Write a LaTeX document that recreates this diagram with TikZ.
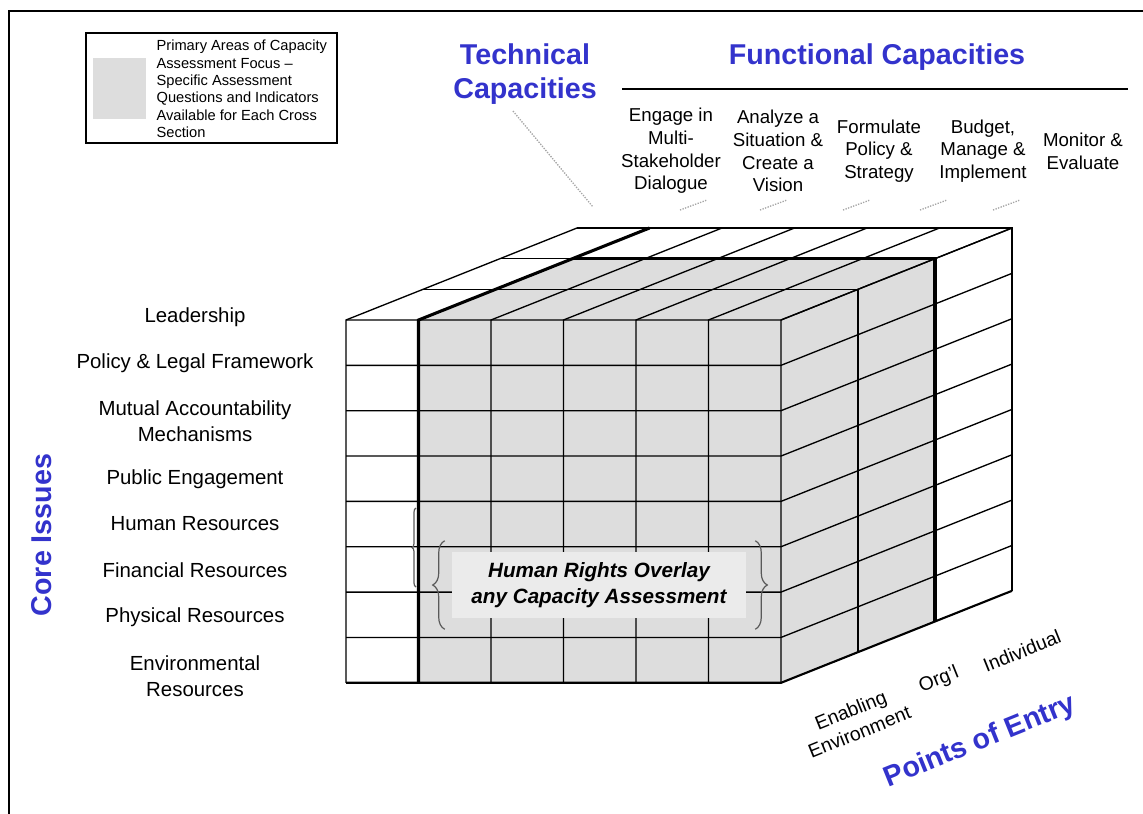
\documentclass[tikz,border=0pt]{standalone}
\usepackage{fontspec}
\setmainfont{Liberation Sans}
\usetikzlibrary{calc, decorations.pathreplacing}

\definecolor{headblue}{RGB}{51,51,204}
\definecolor{cubegray}{RGB}{221,221,221}
\definecolor{boxgray}{RGB}{235,235,235}

\begin{document}
\begin{tikzpicture}[x=.75pt, y=-.75pt]
    \tikzstyle{heading} = [font=\fontsize{21.5}{25.5}\selectfont\bfseries,
        text=headblue, align=center]
    \tikzstyle{issue} = [font=\fontsize{15.3}{19.3}\selectfont, align=center]
    \tikzstyle{capacity} = [font=\fontsize{14}{17}\selectfont, align=center]
    \tikzstyle{entrylabel} = [font=\fontsize{14.5}{17.5}\selectfont, align=center, rotate=22]
    \tikzstyle{gridline} = [line width=1pt]
    \tikzstyle{edge} = [line width=2.3pt]
    \tikzstyle{leader} = [gray!70, densely dotted, line width=1pt]
    \tikzstyle{overbrace} = [gray!70!black, line width=.9pt, decorate,
        decoration={brace, amplitude=9pt}]

    \useasboundingbox (0,0) rectangle (1143,814);

    % Frame
    \draw[line width=1pt] (9,814) -- (9,11) -- (1143,11);

    % Legend -------------------------------------------
    \node (legend) at (211.5,88) [draw, line width=1pt, minimum width=188.25pt,
        minimum height=82.5pt] {};
    \node (key) at ($(legend.west) + (34.5,0)$) [fill=cubegray,
        minimum width=39.75pt, minimum height=45.75pt] {};
    \node (key_text) at ($(legend.west) + (71,1)$) [anchor=west, align=left,
        inner sep=0, font=\fontsize{11}{13.1}\selectfont]
        {Primary Areas of Capacity\\Assessment Focus –\\Specific Assessment\\
        Questions and Indicators\\Available for Each Cross\\Section};
    % ---------------------------------------------------

    % Capacities ---------------------------------------
    \node (technical) at (525,74) [heading] {Technical\\Capacities};
    \node (functional) at (877,57) [heading] {Functional Capacities};
    \draw[line width=1pt] (622,89) -- (1128,89);

    \node (engage) at (671,151) [capacity] {Engage in\\Multi-\\Stakeholder\\Dialogue};
    \node (analyze) at (778,151) [capacity] {Analyze a\\Situation \&\\Create a\\Vision};
    \node (formulate) at (879,151) [capacity] {Formulate\\Policy \&\\Strategy};
    \node (budget) at (983,151) [capacity] {Budget,\\Manage \&\\Implement};
    \node (monitor) at (1083,151) [capacity] {Monitor \&\\Evaluate};

    \coordinate (tech_end) at (593,207);
    \draw[leader] ($(technical.south) + (-12,2)$) -- (tech_end);
    \draw[leader] (680,210) -- (707,200);
    \draw[leader] (760,210) -- (787,200);
    \draw[leader] (843,210) -- (870,200);
    \draw[leader] (920,210) -- (947,200);
    \draw[leader] (993,210) -- (1020,200);

    % Cube ---------------------------------------------
    \fill[cubegray] (418.5,320) rectangle (781,682.8);
    \fill[cubegray] (418.5,320) -- (781,320) -- (935,258.67) -- (572.5,258.67) -- cycle;
    \fill[cubegray] (781,320) -- (935,258.67) -- (935,621.47) -- (781,682.8) -- cycle;

    % rows, front and right side
    \draw[gridline] (346,320) -- (781,320) -- ++(231,-92);
    \draw[gridline] (346,365.35) -- (781,365.35) -- ++(231,-92);
    \draw[gridline] (346,410.7) -- (781,410.7) -- ++(231,-92);
    \draw[gridline] (346,456.05) -- (781,456.05) -- ++(231,-92);
    \draw[gridline] (346,501.4) -- (781,501.4) -- ++(231,-92);
    \draw[gridline] (346,546.75) -- (781,546.75) -- ++(231,-92);
    \draw[gridline] (346,592.1) -- (781,592.1) -- ++(231,-92);
    \draw[gridline] (346,637.45) -- (781,637.45) -- ++(231,-92);

    % columns, front and top
    \draw[gridline] (346,682.8) -- (346,320) -- ++(231,-92);
    \draw[gridline] (491,682.8) -- (491,320) -- ++(231,-92);
    \draw[gridline] (563.5,682.8) -- (563.5,320) -- ++(231,-92);
    \draw[gridline] (636,682.8) -- (636,320) -- ++(231,-92);
    \draw[gridline] (708.5,682.8) -- (708.5,320) -- ++(231,-92);
    \draw[gridline] (781,682.8) -- (781,320) -- ++(231,-92);

    % points of entry layers
    \draw[gridline] (423,289.33) -- (858,289.33) -- (858,652.13);
    \draw[gridline] (500,258.67) -- (935,258.67) -- (935,621.47);
    \draw[gridline] (577,228) -- (1012,228) -- (1012,590.8);

    \draw[overbrace, decoration={amplitude=3pt}] (416,587) -- (416,508);

    % primary focus block
    \draw[edge] (418.5,682.8) -- (418.5,320) -- ++(231,-92);
    \draw[edge] (572.5,258.67) -- (935,258.67) -- (935,621.47);
    \draw[line width=1.6pt] (346,682.8) -- (781,682.8) -- ++(231,-92);
    % ---------------------------------------------------

    % Human rights overlay
    \node (overlay) at (599,585) [fill=boxgray, minimum width=220.5pt,
        minimum height=49.5pt, align=center,
        font=\fontsize{15.5}{19.5}\selectfont\bfseries\itshape]
        {Human Rights Overlay\\any Capacity Assessment};
    \draw[overbrace] ($(overlay.south west) + (-7,11)$) -- ($(overlay.north west) + (-7,-11)$);
    \draw[overbrace] ($(overlay.north east) + (9,-11)$) -- ($(overlay.south east) + (9,11)$);

    % Core issues --------------------------------------
    \node (leadership) at (195,317) [issue] {Leadership};
    \node (policy) at (195,363) [issue] {Policy \& Legal Framework};
    \node (mutual) at (195,421) [issue] {Mutual Accountability\\Mechanisms};
    \node (public) at (195,479) [issue] {Public Engagement};
    \node (human) at (195,524) [issue] {Human Resources};
    \node (financial) at (195,570) [issue] {Financial Resources};
    \node (physical) at (195,617) [issue] {Physical Resources};
    \node (environmental) at (195,676) [issue] {Environmental\\Resources};

    \node (core) at (42,535) [heading, rotate=90] {Core Issues};

    % Points of entry ----------------------------------
    \node (enabling) at (855,721) [entrylabel] {Enabling\\Environment};
    \node (orgl) at (939,680) [entrylabel] {Org'l};
    \node (individual) at (1022,651) [entrylabel] {Individual};
    \node (points) at (980,742) [heading, rotate=22] {Points of Entry};
\end{tikzpicture}
\end{document}
